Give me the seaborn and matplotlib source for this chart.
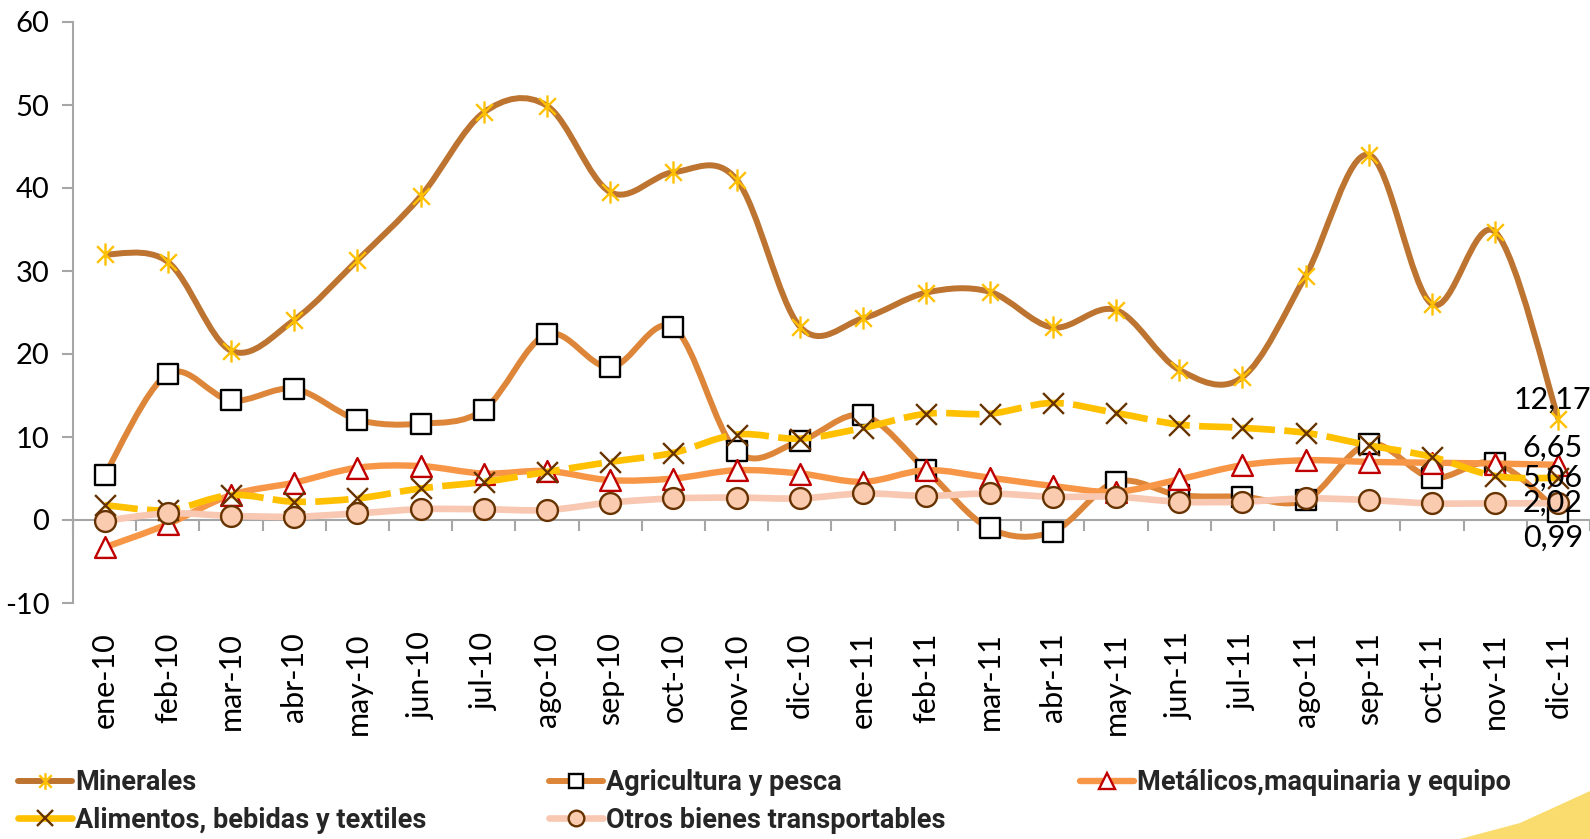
import numpy as np
import pandas as pd
import matplotlib
matplotlib.use('Agg')
import matplotlib.pyplot as plt
import seaborn as sns
from matplotlib.path import Path
from matplotlib.patches import PathPatch, Polygon
from matplotlib.lines import Line2D

meses = ['ene-10', 'feb-10', 'mar-10', 'abr-10', 'may-10', 'jun-10', 'jul-10', 'ago-10',
         'sep-10', 'oct-10', 'nov-10', 'dic-10', 'ene-11', 'feb-11', 'mar-11', 'abr-11',
         'may-11', 'jun-11', 'jul-11', 'ago-11', 'sep-11', 'oct-11', 'nov-11', 'dic-11']

minerales = [32.0, 31.1, 20.4, 24.1, 31.3, 39.0, 49.1, 49.9, 39.5, 41.9, 41.0, 23.3,
             24.3, 27.4, 27.5, 23.2, 25.3, 18.1, 17.2, 29.4, 44.0, 26.0, 34.7, 12.17]
agricultura = [5.4, 17.6, 14.4, 15.8, 12.1, 11.6, 13.3, 22.4, 18.4, 23.2, 8.3, 9.5,
               12.6, 6.0, -1.0, -1.4, 4.6, 3.0, 2.8, 2.4, 9.2, 5.1, 6.9, 0.99]
metalicos = [-3.3, -0.5, 3.0, 4.5, 6.3, 6.5, 5.6, 5.9, 4.8, 5.0, 6.0, 5.6,
             4.6, 6.0, 5.1, 4.1, 3.4, 4.9, 6.6, 7.2, 7.0, 6.9, 6.8, 6.65]
alimentos = [1.8, 1.2, 3.0, 2.2, 2.6, 3.8, 4.6, 5.8, 7.0, 8.1, 10.3, 9.8,
             11.1, 12.8, 12.8, 14.1, 12.9, 11.5, 11.1, 10.5, 9.0, 7.6, 5.3, 5.06]
otros = [-0.1, 0.8, 0.5, 0.4, 0.8, 1.3, 1.3, 1.2, 2.1, 2.6, 2.7, 2.6,
         3.2, 2.9, 3.2, 2.8, 2.8, 2.2, 2.2, 2.6, 2.4, 2.0, 2.0, 2.02]

nombres = ['Minerales', 'Agricultura y pesca', 'Metálicos,maquinaria y equipo',
           'Alimentos, bebidas y textiles', 'Otros bienes transportables']
etiquetas = ['12,17', '0,99', '6,65', '5,06', '2,02']

# asterisco tipo Excel (vertical + X)
estrella = Path([(0, -1), (0, 1), (-0.75, -0.75), (0.75, 0.75), (-0.75, 0.75), (0.75, -0.75)],
                [Path.MOVETO, Path.LINETO] * 3)

estilos = [
    dict(line='#BD7431', lw=4.3, ls='-', marker=estrella, fc='#FFC000', ec='#FFC000', ms=16, mew=1.7),
    dict(line='#DD8639', lw=4.3, ls='-', marker='s', fc='white', ec='black', ms=14, mew=1.7),
    dict(line='#F79646', lw=4.6, ls='-', marker='^', fc='white', ec='#C00000', ms=15, mew=1.7),
    dict(line='#FFC000', lw=4.8, ls=(0, (5, 1.4)), marker='x', fc='#663300', ec='#663300', ms=15, mew=1.7),
    dict(line='#F8C8B2', lw=4.8, ls='-', marker='o', fc='#FBCBB0', ec='#663300', ms=15, mew=1.7),
]
# desplazamiento vertical de las etiquetas finales (pt)
desp = [14, -19, 12, 0, 0]

df = pd.DataFrame({'mes': meses, nombres[0]: minerales, nombres[1]: agricultura,
                   nombres[2]: metalicos, nombres[3]: alimentos, nombres[4]: otros})
df['x'] = np.arange(len(meses))


def curva_suave(xs, ys):
    # bezier como el "suavizado" de Excel
    pts = np.column_stack([xs, ys]).astype(float)
    n = len(pts)
    verts = [pts[0]]
    codes = [Path.MOVETO]
    for i in range(n - 1):
        p0 = pts[max(i - 1, 0)]
        p1 = pts[i]
        p2 = pts[i + 1]
        p3 = pts[min(i + 2, n - 1)]
        verts += [p1 + (p2 - p0) / 6, p2 - (p3 - p1) / 6, p2]
        codes += [Path.CURVE4] * 3
    return Path(verts, codes)


sns.set_theme(style='white')
plt.rcParams['font.family'] = ['Lato', 'DejaVu Sans']
plt.rcParams['axes.unicode_minus'] = False

fig = plt.figure(figsize=(15.9, 8.39), dpi=100)
ax = fig.add_axes([73 / 1590, 1 - 603 / 839, 1 - 73 / 1590, (603 - 22) / 839])

for i, nom in enumerate(nombres):
    st = estilos[i]
    ax.add_patch(PathPatch(curva_suave(df['x'], df[nom]), fill=False, edgecolor=st['line'],
                           lw=st['lw'], linestyle=st['ls'], capstyle='butt', zorder=2 + 2 * i))
    sns.scatterplot(x=df['x'], y=df[nom], marker=st['marker'], s=st['ms'] ** 2,
                    color=st['fc'], edgecolor=st['ec'], linewidth=st['mew'], ax=ax,
                    zorder=3 + 2 * i, legend=False)
    ax.annotate(etiquetas[i], xy=(df['x'].iloc[-1], df[nom].iloc[-1]),
                xytext=(-4, desp[i]), textcoords='offset points', ha='center', va='center',
                fontsize=22, color='black', zorder=20, annotation_clip=False)

ax.set_xlim(-0.5, len(meses) - 0.5)
ax.set_ylim(-10, 60)
ax.set_yticks(range(-10, 61, 10))
ax.set_xticks(df['x'])
ax.set_xticklabels(meses)
ax.set_xticks(np.arange(-0.5, len(meses), 1), minor=True)
ax.set_xlabel('')
ax.set_ylabel('')

gris = '#A6A6A6'
for s in ['top', 'right']:
    ax.spines[s].set_visible(False)
ax.spines['left'].set_color(gris)
ax.spines['left'].set_linewidth(1.5)
ax.spines['bottom'].set_position(('data', 0))
ax.spines['bottom'].set_color(gris)
ax.spines['bottom'].set_linewidth(1.5)
ax.spines['bottom'].set_zorder(1)
ax.tick_params(axis='y', which='major', length=8, width=1.5, color=gris, labelsize=21,
               labelcolor='black', left=True, direction='out', pad=9)
ax.tick_params(axis='x', which='major', length=0, labelsize=22, labelcolor='black',
               pad=81, labelrotation=90)
ax.tick_params(axis='x', which='minor', length=8, width=1.5, color=gris, bottom=True,
               direction='out')
for lab in ax.get_xticklabels():
    lab.set_ha('center')
    lab.set_va('top')
ax.grid(False)

# leyenda en tres columnas
def entrada(i):
    st = estilos[i]
    return Line2D([0], [0], color=st['line'], lw=st['lw'], linestyle='-',
                  marker=st['marker'], markersize=st['ms'] * 0.75, markerfacecolor=st['fc'],
                  markeredgecolor=st['ec'], markeredgewidth=st['mew'])

columnas = [([0, 3], 18), ([1, 4], 549), ([2], 1080)]
for idx, xpx in columnas:
    fig.legend([entrada(i) for i in idx], [nombres[i] for i in idx],
               loc='upper left', bbox_to_anchor=(xpx / 1590, 1 - 769 / 839),
               frameon=False, ncol=1, handlelength=2.0, handletextpad=0.1,
               labelspacing=0.4, borderaxespad=0, borderpad=0,
               prop={'family': ['Roboto', 'DejaVu Sans'], 'weight': 'bold', 'size': 19.5})

# franja amarilla decorativa
fig.patches.append(Polygon([(1460 / 1590, 0), (1520 / 1590, 16 / 839), (1590 / 1590, 48 / 839),
                            (1, 0)], closed=True, transform=fig.transFigure,
                           facecolor='#F9D44A', edgecolor='none', alpha=0.8))

fig.savefig('out.png', dpi=100)
